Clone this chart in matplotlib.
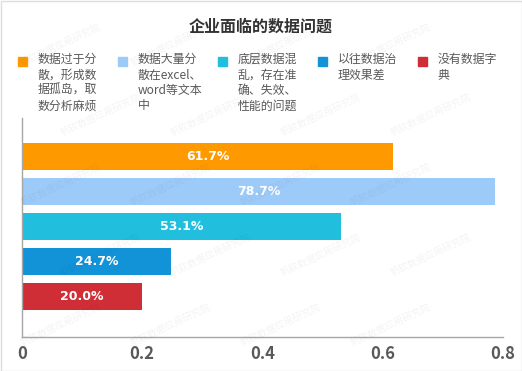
import matplotlib.pyplot as plt
from matplotlib.patches import Rectangle

plt.rcParams['font.family'] = ['Noto Sans CJK SC', 'DejaVu Sans']

# data
categories = ['数据过于分\n散，形成数\n据孤岛，取\n数分析麻烦',
              '数据大量分\n散在excel、\nword等文本\n中',
              '底层数据混\n乱，存在准\n确、失效、\n性能的问题',
              '以往数据治\n理效果差',
              '没有数据字\n典']
values = [0.617, 0.787, 0.531, 0.247, 0.200]
colors = ['#FF9900', '#9DCBF9', '#21BEDE', '#1293D8', '#CF2E36']
xticks = [0, 0.2, 0.4, 0.6, 0.8]
xtick_labels = ['0', '0.2', '0.4', '0.6', '0.8']
title = '企业面临的数据问题'
watermark = '帆软数据应用研究院'

W, H = 522, 371
fig = plt.figure(figsize=(W / 100, H / 100), dpi=100)
fig.patch.set_facecolor('white')
fig.add_artist(Rectangle((0.5 / W, 0.5 / H), 1 - 1 / W, 1 - 1 / H,
                         transform=fig.transFigure, fill=False,
                         edgecolor='#dddddd', lw=1))

ax = fig.add_axes([22 / W, 1 - 337 / H, (503 - 22) / W, (337 - 118) / H])
ypos = list(range(len(values)))
bars = ax.barh(ypos, values, height=0.77, color=colors, zorder=2)
for b, v in zip(bars, values):
    ax.text(v / 2, b.get_y() + b.get_height() / 2, f'{v * 100:.1f}%',
            ha='center', va='center', color='white', fontsize=9,
            fontweight='bold', family='DejaVu Sans', zorder=3)

ax.set_xlim(0, 0.8)
ax.set_ylim(4 + 1.157, -1.1)
ax.set_xticks(xticks)
ax.set_xticklabels(xtick_labels, fontsize=12, fontweight='bold', color='#595959')
ax.tick_params(axis='x', length=0, pad=6)
ax.set_yticks([])
for s in ['top', 'right']:
    ax.spines[s].set_visible(False)
for s in ['left', 'bottom']:
    ax.spines[s].set_color('#a6a6a6')
    ax.spines[s].set_linewidth(1)

fig.text(261 / W, 1 - 27 / H, title, ha='center', va='center',
         fontsize=11.5, fontweight='bold', color='#333333')

# legend drawn by hand
for i, (lab, c) in enumerate(zip(categories, colors)):
    x0 = 18 + 100 * i
    fig.add_artist(Rectangle((x0 / W, 1 - 66 / H), 9 / W, 9 / H,
                             transform=fig.transFigure, color=c))
    fig.text((x0 + 20) / W, 1 - 53 / H, lab, ha='left', va='top',
             fontsize=8.6, color='#595959', linespacing=1.25)

# faint watermark
for r in range(5):
    for k in range(4):
        fig.text((60 + k * 110 + (r % 2) * 40) / W, 1 - (45 + r * 70) / H,
                 watermark, fontsize=7, color='#000000', alpha=0.05,
                 rotation=25, ha='center', va='center')

fig.savefig('out.png', dpi=100)
